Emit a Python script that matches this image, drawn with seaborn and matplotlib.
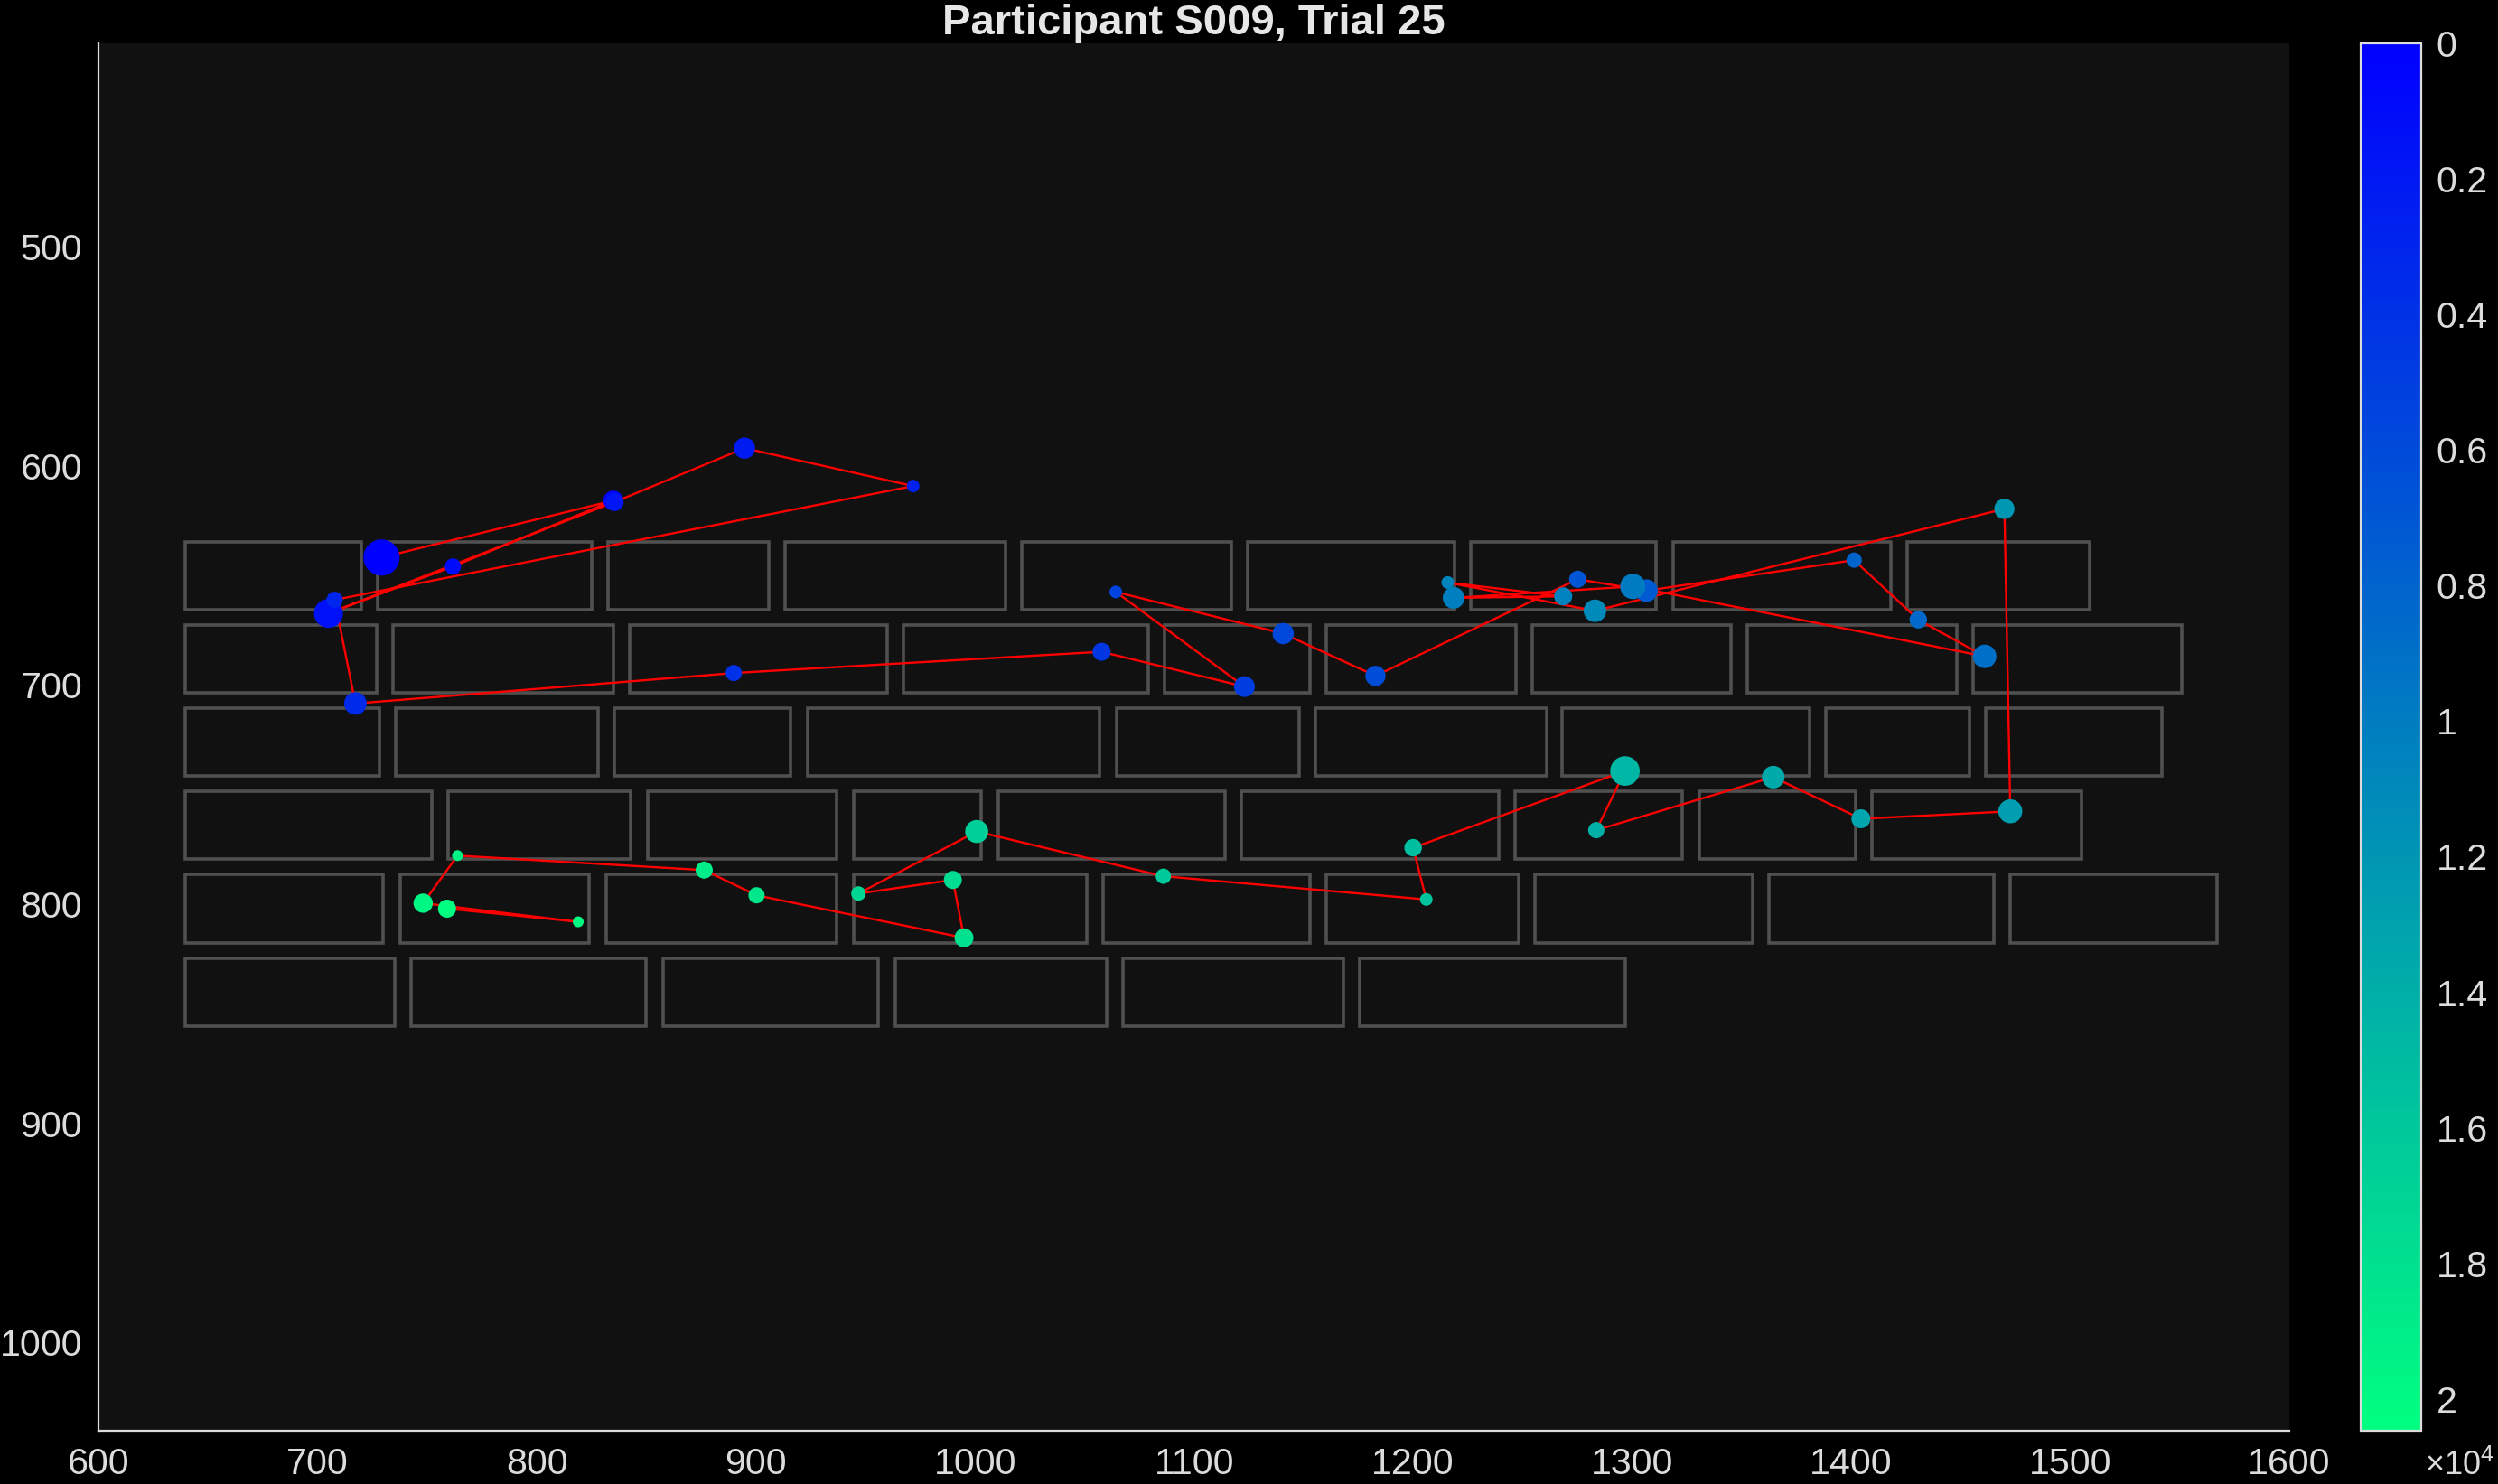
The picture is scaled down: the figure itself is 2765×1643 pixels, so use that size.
import numpy as np
import pandas as pd
import matplotlib
matplotlib.use('Agg')
import matplotlib.pyplot as plt
import seaborn as sns
from matplotlib.patches import Rectangle

# word boxes (screen px), one list of (left, right) per text line
line_tops = [634.5, 672.5, 710.5, 748.5, 786.5, 824.5]
box_height = 31
line1 = [(639.5, 720), (727.5, 825), (832.5, 906), (913.5, 1014), (1021.5, 1117),
         (1124.5, 1219), (1226.5, 1311), (1318.5, 1418), (1425.5, 1509)]
line2 = [(639.5, 727), (734.5, 835), (842.5, 960), (967.5, 1079), (1086.5, 1153),
         (1160.5, 1247), (1254.5, 1345), (1352.5, 1448), (1455.5, 1551)]
line3 = [(639.5, 728), (735.5, 828), (835.5, 916), (923.5, 1057), (1064.5, 1148),
         (1155.5, 1261), (1268, 1381), (1388.5, 1454), (1461.5, 1542)]
line4 = [(639.5, 752), (759.5, 843), (850.5, 937), (944.5, 1003), (1010.5, 1114),
         (1121.5, 1239), (1246.5, 1323), (1330.5, 1402), (1409.5, 1505)]
line5 = [(639.5, 730), (737.5, 824), (831.5, 937), (944.5, 1051), (1058.5, 1153),
         (1160.5, 1248), (1255.5, 1355), (1362.5, 1465), (1472.5, 1567)]
line6 = [(639.5, 735), (742.5, 850), (857.5, 956), (963.5, 1060), (1067.5, 1168),
         (1175.5, 1297)]
word_lines = [line1, line2, line3, line4, line5, line6]

# fixations in scanpath order
fix_x = [729.1, 834.9, 761.7, 704.9, 835.5, 894.8, 971.8, 707.7, 717.2, 889.9,
         1057.8, 1123.0, 1064.3, 1140.7, 1182.8, 1275.1, 1306.5, 1401.3, 1430.6, 1460.9,
         1300.3, 1218.5, 1268.5, 1215.8, 1283.0, 1469.9, 1472.6, 1404.4, 1364.4, 1283.6,
         1296.7, 1200.0, 1206.0, 1086.0, 1000.8, 946.8, 989.9, 995.0, 900.3, 876.4,
         763.8, 748.1, 818.9, 759.0]
fix_y = [641.8, 615.8, 645.9, 667.3, 616.5, 591.9, 609.2, 661.1, 708.4, 694.5,
         684.8, 700.7, 657.5, 676.5, 695.8, 651.7, 656.9, 643.0, 670.2, 686.9,
         655.0, 660.2, 659.5, 653.2, 666.1, 619.6, 757.6, 761.0, 742.0, 766.2,
         739.2, 774.2, 797.8, 787.2, 766.8, 795.1, 788.9, 815.3, 795.9, 784.4,
         777.8, 799.5, 808.0, 802.0]
# fixation onset (ms)
fix_t = [0, 500, 900, 1300, 1800, 2200, 2700, 3000, 3400, 3900,
         4400, 4900, 5400, 5800, 6300, 6900, 7300, 8000, 8400, 8900,
         9900, 10200, 10500, 10700, 11100, 12100, 12700, 13200, 13600, 14100,
         14600, 15200, 15600, 16200, 16700, 17200, 17600, 18000, 18500, 18900,
         19400, 19800, 20150, 20470]
# fixation duration (ms)
fix_dur = [400, 121, 81, 256, 100, 137, 49, 81, 156, 81,
           100, 132, 49, 138, 125, 90, 156, 72, 94, 169,
           196, 144, 100, 49, 156, 125, 176, 110, 156, 81,
           267, 94, 49, 72, 163, 64, 100, 110, 81, 90,
           36, 114, 36, 100]

t_max = 20470

sns.set_style('dark')
plt.rcParams['font.family'] = ['Liberation Sans', 'DejaVu Sans']
plt.rcParams['mathtext.fontset'] = 'custom'
plt.rcParams['mathtext.rm'] = 'Liberation Sans'

fg = '#dcdcdc'
fig = plt.figure(figsize=(13.825, 8.215), dpi=200, facecolor='black')
ax = fig.add_axes([0.0395, 0.0359, 0.877, 0.9349])
ax.set_facecolor('#111111')

for top, boxes in zip(line_tops, word_lines):
    for x0, x1 in boxes:
        ax.add_patch(Rectangle((x0, top), x1 - x0, box_height, fill=False,
                               edgecolor='#505050', lw=1.3, zorder=1))

df = pd.DataFrame({'x': fix_x, 'y': fix_y, 't': fix_t, 'dur': fix_dur})

sns.lineplot(data=df, x='x', y='y', sort=False, estimator=None, color='red',
             lw=0.85, ax=ax, zorder=2)

# marker area in pt^2 proportional to duration
k = 0.518
dmin, dmax = min(fix_dur), max(fix_dur)
sns.scatterplot(data=df, x='x', y='y', hue='t', hue_norm=(0, t_max), palette='winter',
                size='dur', sizes=(k * dmin, k * dmax), size_norm=(dmin, dmax),
                linewidth=0, edgecolor='none', alpha=1, legend=False, ax=ax, zorder=3)

ax.set_xlim(600, 1600)
ax.set_ylim(1040.2, 407.2)
ax.set_xticks(np.arange(600, 1601, 100))
ax.set_yticks(np.arange(500, 1001, 100))
ax.set_xlabel('')
ax.set_ylabel('')
ax.grid(False)
for s in ['top', 'right']:
    ax.spines[s].set_visible(False)
for s in ['left', 'bottom']:
    ax.spines[s].set_color(fg)
    ax.spines[s].set_linewidth(0.8)
ax.tick_params(direction='in', length=8.5, width=0.8, color=fg, labelcolor=fg,
               labelsize=14.8, pad=6.5)
ax.set_title('Participant S009, Trial 25', color='#e6e6e6', fontsize=17,
             fontweight='bold', pad=3.5)

# colorbar, time running downwards
cax = fig.add_axes([0.9449, 0.0359, 0.0243, 0.9349])
sm = plt.cm.ScalarMappable(norm=plt.Normalize(0, t_max), cmap='winter')
cb = fig.colorbar(sm, cax=cax)
cax.invert_yaxis()
cb_ticks = np.arange(0, 20001, 2000)
cb.set_ticks(cb_ticks)
cb.set_ticklabels([f'{v / 1e4:g}' for v in cb_ticks])
cb.outline.set_edgecolor(fg)
cb.outline.set_linewidth(0.8)
cax.tick_params(direction='in', length=5.8, width=0.8, color=fg, labelcolor=fg,
                labelsize=14.8, pad=6)
fig.text(0.9985, 0.012, r'$\times10^4$', color=fg, fontsize=13, ha='right', va='center')

fig.savefig('out.png', dpi=200, facecolor='black')
